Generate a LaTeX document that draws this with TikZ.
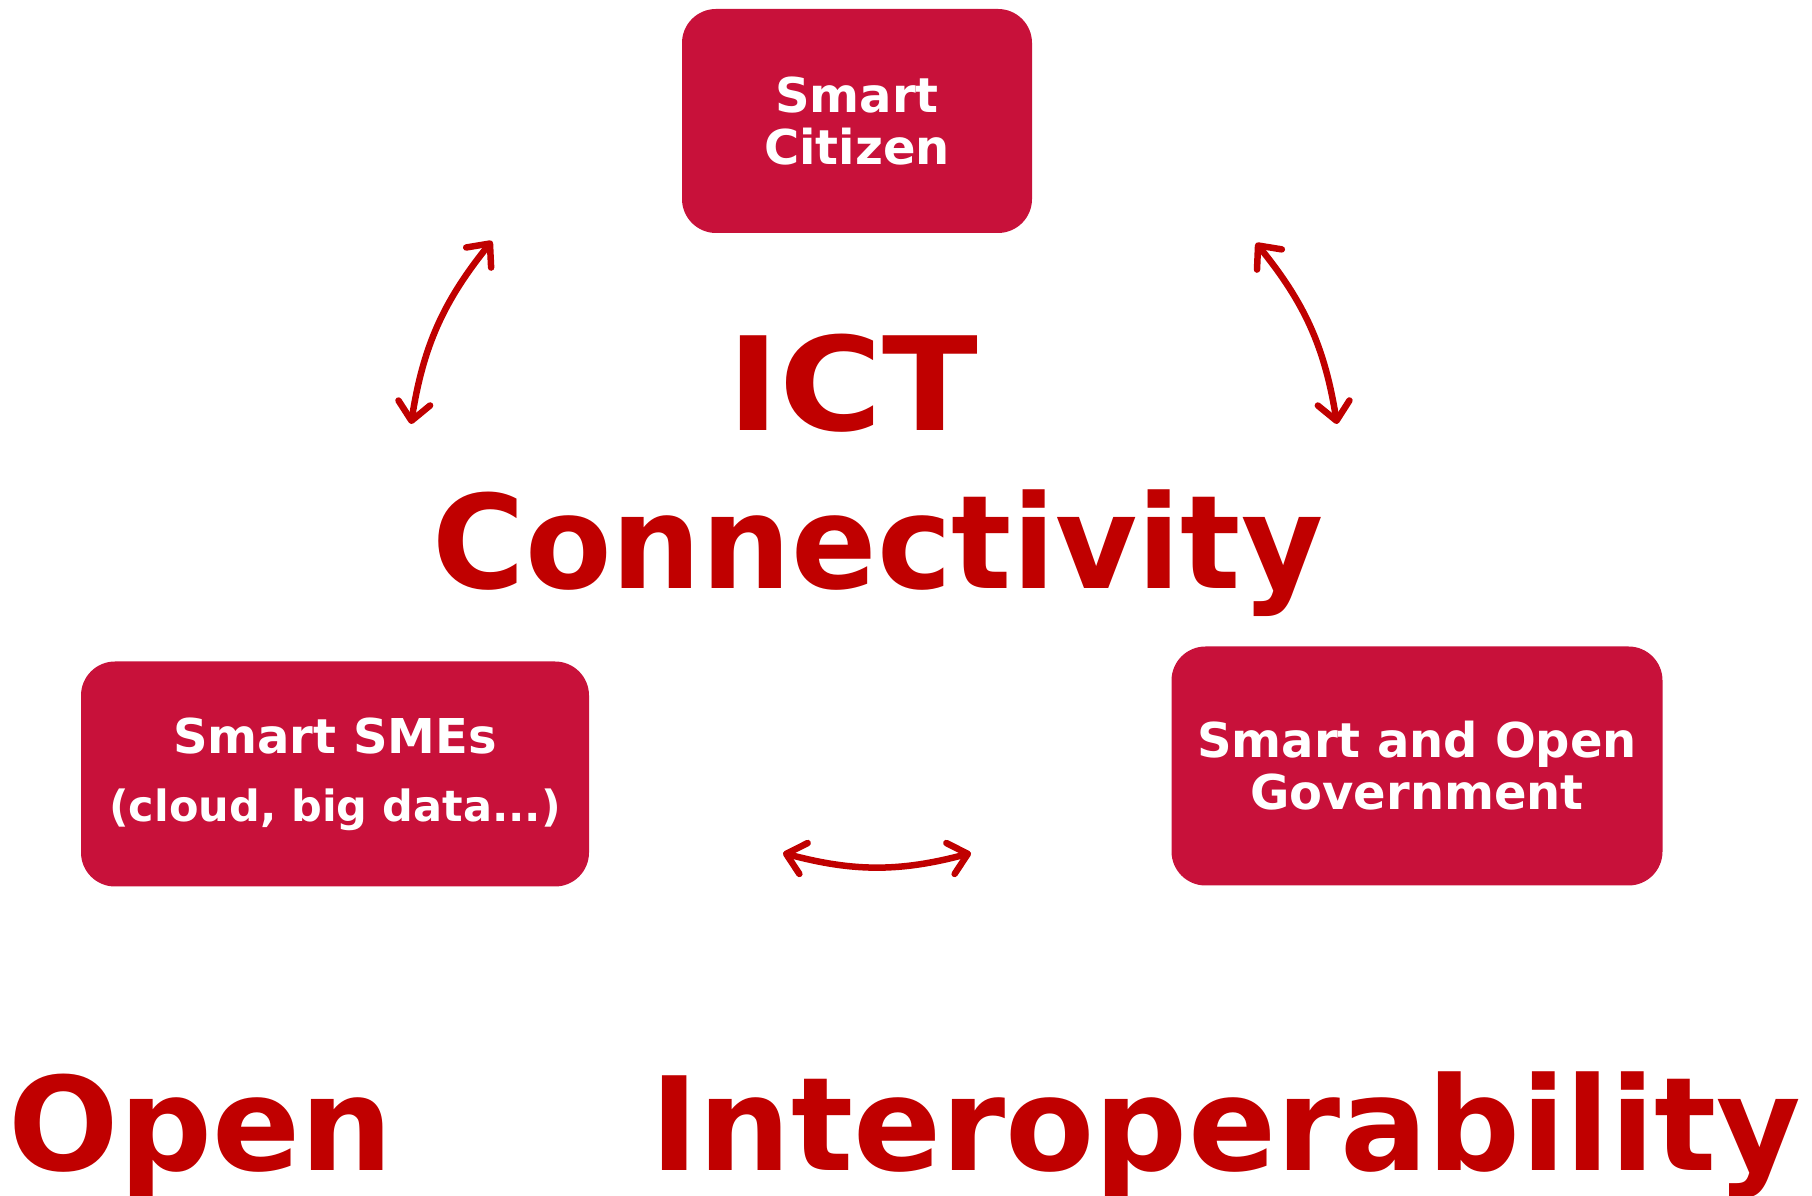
\documentclass[tikz,border=0pt]{standalone}
\usepackage{fontspec}
\setmainfont{DejaVu Sans}
\newfontfamily\bigwordfont{DejaVu Sans}[FakeStretch=0.97]
\newfontfamily\ictfont{DejaVu Sans}[FakeStretch=1.08]
\usetikzlibrary{arrows.meta, positioning}
\definecolor{smartred}{RGB}{200, 17, 58}
\definecolor{ictred}{RGB}{192, 0, 0}

\begin{document}
\begin{tikzpicture}[x=1pt, y=1pt,
    smartbox/.style={fill=smartred, rounded corners=34pt, text=white, align=center,
      font=\bfseries\fontsize{48}{52}\selectfont},
    bigword/.style={text=ictred, inner sep=0pt, anchor=base,
      font=\bfseries\fontsize{130}{134}\selectfont},
    linkarrow/.style={ictred, line width=6.5pt, line cap=round,
      {Straight Barb[length=18pt,width=32pt,round]}-{Straight Barb[length=18pt,width=32pt,round]}}]
  \useasboundingbox (0,0) rectangle (1812,1196);

  % the three smart actors
  \node[smartbox, minimum width=350pt, minimum height=224pt] (citizen) at (857,1075) {Smart\\Citizen};
  \node[smartbox, minimum width=508pt, minimum height=225pt] (smes) at (335,422)
    {Smart SMEs\\[16pt]{\fontsize{43}{47}\selectfont (cloud, big data...)}};
  \node[smartbox, minimum width=491pt, minimum height=239pt] (gov) at (1417,430) {Smart and Open\\Government};

  % big words
  \node[bigword, font=\ictfont\bfseries\fontsize{130}{134}\selectfont] (ict) at (853,765) {ICT};
  \node[bigword, font=\bigwordfont\bfseries\fontsize{130}{134}\selectfont] (conn) at (878,607) {Connectivity};
  \node[bigword] (open) at (201,25) {Open};
  \node[bigword] (interop) at (1226,25) {Interoperability};

  % arrow ends
  \coordinate (l1) at (411,772);
  \coordinate (l2) at (492,955);
  \coordinate (r1) at (1256,953);
  \coordinate (r2) at (1337,772);
  \coordinate (b1) at (783,343);
  \coordinate (b2) at (971,343);

  \draw[linkarrow] (l1) to[bend left=15] (l2);
  \draw[linkarrow] (r1) to[bend left=15] (r2);
  \draw[linkarrow] (b1) to[bend right=15] (b2);
\end{tikzpicture}
\end{document}
